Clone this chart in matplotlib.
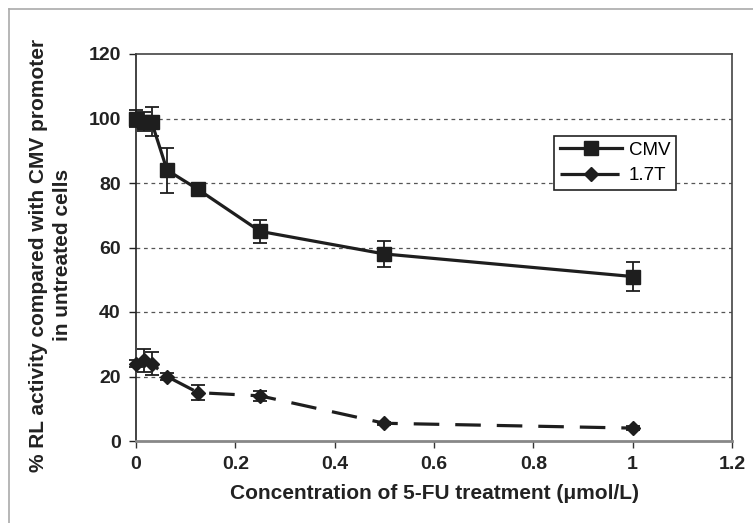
import matplotlib
matplotlib.use("Agg")
import matplotlib.pyplot as plt
from matplotlib.lines import Line2D

plt.rcParams['font.family'] = ['Liberation Sans', 'DejaVu Sans']

conc = [0, 0.0156, 0.03125, 0.0625, 0.125, 0.25, 0.5, 1.0]
cmv = [100, 99, 99, 84, 78, 65, 58, 51]
cmv_err = [2.5, 3, 4.5, 7, 1, 3.5, 4, 4.5]
t17 = [24, 25, 24, 20, 15, 14, 5.5, 4]
t17_err = [1, 3.5, 3.5, 1, 2.3, 1.5, 0.5, 0.5]

xticks = [0, 0.2, 0.4, 0.6, 0.8, 1.0, 1.2]
xticklabels = ["0", "0.2", "0.4", "0.6", "0.8", "1", "1.2"]
yticks = [0, 20, 40, 60, 80, 100, 120]

fig = plt.figure(figsize=(7.53, 5.23), dpi=100)
ax = fig.add_axes([136/753, 1-441/523, (732-136)/753, (441-54)/523])

for y in [20, 40, 60, 80, 100]:
    ax.axhline(y, color='#555555', lw=0.9, dashes=(3, 3), zorder=1)

c = '#1e1e1e'
e1 = ax.errorbar(conc, cmv, yerr=cmv_err, color=c, lw=2.3, marker='s', markersize=10,
            capsize=5, elinewidth=1.3, capthick=1.3, label='CMV', zorder=3)
e2 = ax.errorbar(conc, t17, yerr=t17_err, color=c, lw=2.3, marker='D', markersize=7.5,
            capsize=5, elinewidth=1.3, capthick=1.3, label='1.7T', zorder=3)
e2.lines[0].set_dashes((8, 5))
for e in (e1, e2):
    e.lines[0].set_clip_on(False)
    for cl in e.lines[1]:
        cl.set_clip_on(False)
    for bl in e.lines[2]:
        bl.set_clip_on(False)

ax.set_xlim(0, 1.2)
ax.set_ylim(0, 120)
ax.set_xticks(xticks)
ax.set_xticklabels(xticklabels)
ax.set_yticks(yticks)
ax.tick_params(axis='both', direction='out', length=5, width=1, labelsize=14, pad=6)
for lab in ax.get_xticklabels() + ax.get_yticklabels():
    lab.set_fontweight('bold')
ax.tick_params(axis='x', colors='#333333', labelcolor='#222222')
ax.tick_params(axis='y', colors='#222222', labelcolor='#222222')

ax.spines['left'].set_color('#222222')
ax.spines['left'].set_linewidth(1.2)
ax.spines['bottom'].set_color('#888888')
ax.spines['bottom'].set_linewidth(2)
ax.spines['top'].set_color('#444444')
ax.spines['top'].set_linewidth(1.2)
ax.spines['right'].set_color('#444444')
ax.spines['right'].set_linewidth(1.2)

ax.set_xlabel('Concentration of 5-FU treatment (\u03bcmol/L)', fontsize=15, fontweight='bold',
              color='#222222', labelpad=8)
ax.set_ylabel('% RL activity compared with CMV promoter\nin untreated cells', fontsize=15,
              fontweight='bold', color='#222222', linespacing=1.35)
ax.yaxis.set_label_coords(-0.107, 0.48)

h1 = Line2D([], [], color=c, lw=2.3, marker='s', markersize=10)
h2 = Line2D([], [], color=c, lw=2.3, marker='D', markersize=7.5, dashes=(8, 2.5))
leg = ax.legend([h1, h2], ['CMV', '1.7T'], loc='upper left',
                bbox_to_anchor=((554-136)/596, (441-136)/387), fontsize=13.5,
                frameon=True, fancybox=False, edgecolor='#222222', framealpha=1,
                handlelength=3.3, borderpad=0.3, labelspacing=0.45, handletextpad=0.4,
                borderaxespad=0)
leg.get_frame().set_linewidth(1.2)

# outer frame (cropped at right/bottom)
fig.add_artist(Line2D([9/753, 9/753], [0, 1-9/523], transform=fig.transFigure, color='#aaaaaa', lw=1.2))
fig.add_artist(Line2D([9/753, 1], [1-9/523, 1-9/523], transform=fig.transFigure, color='#aaaaaa', lw=1.2))

fig.savefig('out.png', dpi=100)
